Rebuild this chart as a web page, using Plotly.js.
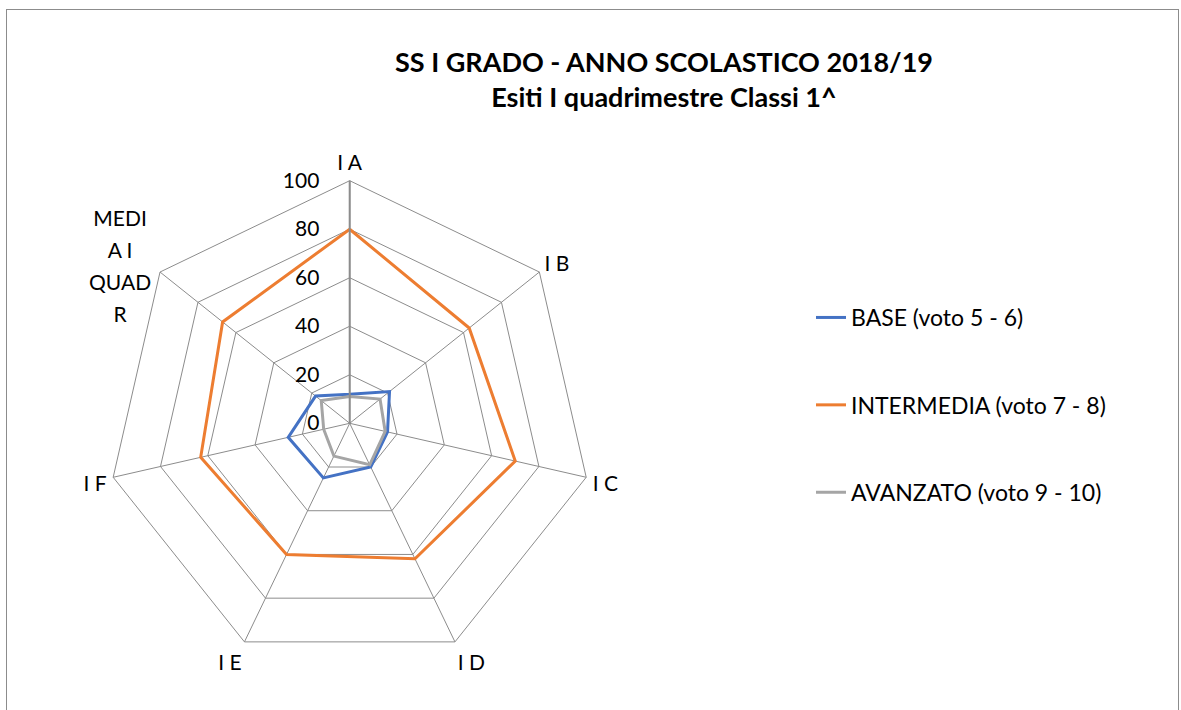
<!DOCTYPE html>
<html><head><meta charset="utf-8">
<script src="https://cdn.plot.ly/plotly-3.0.1.min.js"></script>
<style>
html,body{margin:0;padding:0;background:#fff;}
#wrap{position:relative;width:1181px;height:710px;overflow:hidden;}
#chart{position:absolute;left:0;top:0;width:1181px;height:710px;}
#frame{position:absolute;left:6px;top:9px;width:1171px;height:720px;border:1px solid #8c8c8c;pointer-events:none;}
</style></head>
<body><div id="wrap"><div id="chart"></div><div id="frame"></div></div>
<script>
const categories = ["I A","I B","I C","I D","I E","I F","MEDIA I QUADR"];
const tickLabels = ["I A","I B","I C","I D","I E","I F",""];
const wrappedLines = ["MEDI","A I","QUAD","R"];
const seriesNames = ["BASE (voto 5 - 6)","INTERMEDIA (voto 7 - 8)","AVANZATO (voto 9 - 10)"];
const base = [12, 21, 16, 20, 25, 26, 18];
const intermedia = [80, 63, 70, 62, 60, 63, 67];
const avanzato = [11, 16, 15, 19, 15, 11, 15];
const radialTicks = [0, 20, 40, 60, 80, 100];
const colors = ["#4472C4","#ED7D31","#A5A5A5"];

function closed(a){return a.concat([a[0]]);}
const allVals=[base,intermedia,avanzato];
const traces = allVals.map((v,i)=>({
  type:"scatterpolar", mode:"lines",
  r: closed(v), theta: closed(categories),
  name: seriesNames[i], legendgroup: "g"+i,
  line:{color:colors[i], width:3}
}));
const W=1181,H=710, cx=349.7, cy=423.3, R=242.6;
const layout = {
  width:W, height:H, margin:{l:0,r:0,t:0,b:0},
  paper_bgcolor:"#fff", plot_bgcolor:"#fff",
  font:{family:"Lato, 'Open Sans', sans-serif", color:"#000"},
  title:{text:"<b>SS I GRADO - ANNO SCOLASTICO 2018/19</b><br><b>Esiti I quadrimestre Classi 1^</b>",
    x:664/W, xanchor:"center", y:1-72/H, yanchor:"middle",
    font:{size:27, family:"Lato, sans-serif", color:"#000"}},
  showlegend:true,
  legend:{x:811/W, y:1-296/H, xanchor:"left", yanchor:"top",
    font:{size:23, color:"#000"}, traceorder:"grouped", tracegroupgap:54.5,
    bgcolor:"rgba(0,0,0,0)"},
  annotations:[{text:wrappedLines.map(s=>"<span style='font-size:21px'>"+s+"</span>").join("<br>"),
    xref:"paper", yref:"paper", x:120/W, y:1-266/H,
    xanchor:"center", yanchor:"middle", align:"center", showarrow:false,
    font:{size:24.5, color:"#000"}}],
  polar:{
    domain:{x:[(cx-R)/W,(cx+R)/W], y:[1-(cy+R)/H, 1-(cy-R)/H]},
    gridshape:"linear", bgcolor:"#fff",
    angularaxis:{type:"category", categoryarray:categories, direction:"clockwise", rotation:90,
      tickvals:categories, ticktext:tickLabels, ticks:"outside", ticklen:2, tickcolor:"rgba(0,0,0,0)",
      showline:true, linecolor:"#8c8c8c", linewidth:1,
      showgrid:true, gridcolor:"#8c8c8c", gridwidth:1,
      tickfont:{size:21, color:"#000"}},
    radialaxis:{range:[0,100], tickvals:radialTicks, ticktext:radialTicks.map(String),
      angle:90, tickangle:90, side:"counterclockwise", ticks:"outside", ticklen:22, tickcolor:"rgba(0,0,0,0)",
      showline:true, linecolor:"#8c8c8c", linewidth:2,
      showgrid:true, gridcolor:"#8c8c8c", gridwidth:1,
      tickfont:{size:21, color:"#000"}}
  }
};
Plotly.newPlot("chart", traces, layout, {displayModeBar:false, staticPlot:true});
</script></body></html>
